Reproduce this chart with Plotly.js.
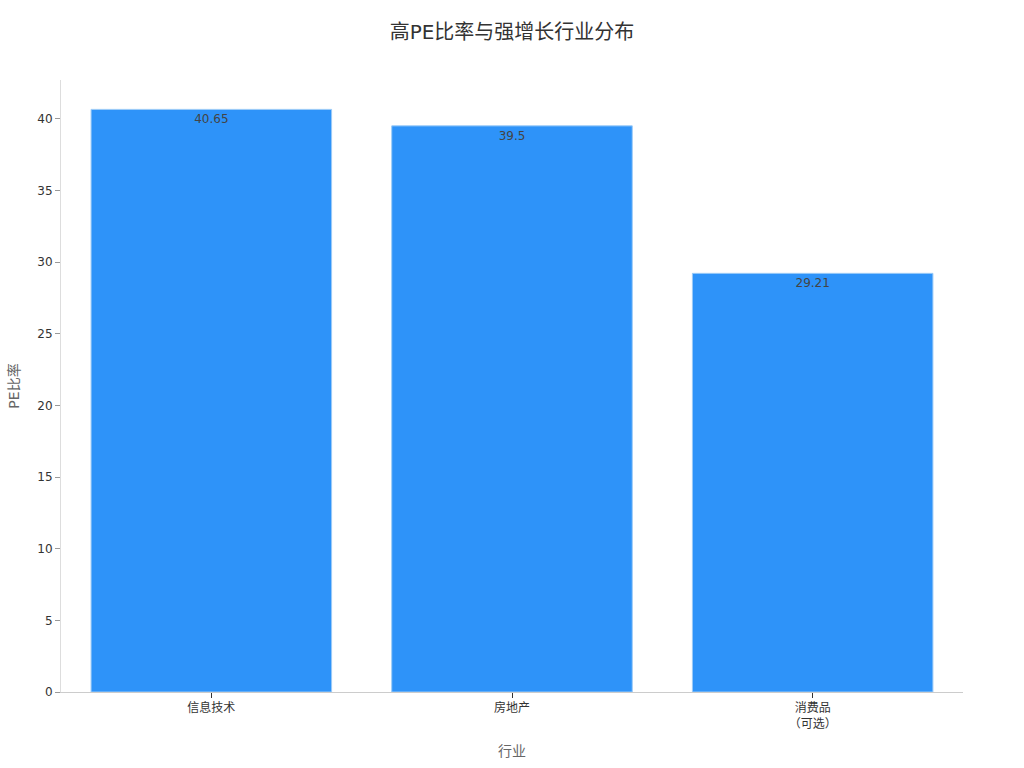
<!DOCTYPE html>
<html>
<head>
<meta charset="utf-8">
<script src="https://cdn.plot.ly/plotly-3.0.1.min.js"></script>
<style>html,body{margin:0;padding:0;background:#fff;}#chart{width:1024px;height:768px;}</style>
</head>
<body>
<div id="chart"></div>
<script>
let industries=["信息技术","房地产","消费品<br>（可选）"];
let peRatios=[40.65,39.5,29.21];
let peLabels=["40.65","39.5","29.21"];

let trace={
  x:industries,y:peRatios,type:'bar',
  text:peLabels,textposition:'inside',insidetextanchor:'end',
  textfont:{color:'#444',size:12},
  marker:{color:'#2e93f9',line:{color:'#9ccbf7',width:1}},
  hoverinfo:'none'
};
let layout={
  width:1024,height:768,
  margin:{l:61,r:61,t:80,b:76},
  paper_bgcolor:'#fff',plot_bgcolor:'#fff',
  font:{family:'"DejaVu Sans","Noto Sans CJK SC",sans-serif',color:'#333',size:12},
  title:{text:'高PE比率与强增长行业分布',x:0.5,y:0.958,yanchor:'middle',font:{size:20,color:'#333'}},
  bargap:0.2,showlegend:false,
  xaxis:{title:{text:'行业',font:{size:14,color:'#666'},standoff:16},
    showline:true,linecolor:'#ccc',linewidth:1,ticks:'outside',ticklen:5,tickcolor:'#333',showgrid:false,
    tickfont:{size:12,color:'#333'}},
  yaxis:{title:{text:'PE比率',font:{size:14,color:'#666'},standoff:14},range:[0,42.7],dtick:5,
    showline:true,linecolor:'#ddd',linewidth:1,ticks:'outside',ticklen:5,tickcolor:'#999',showgrid:false,zeroline:false,
    tickfont:{size:12,color:'#333'}}
};
Plotly.newPlot('chart',[trace],layout,{displayModeBar:false,staticPlot:true});
</script>
</body>
</html>
